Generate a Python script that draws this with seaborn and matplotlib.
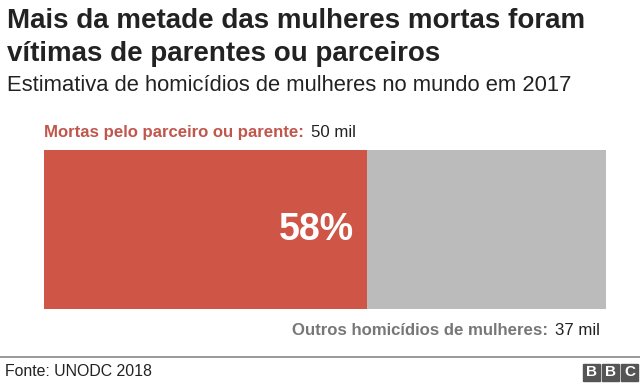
import matplotlib
matplotlib.use("Agg")
import matplotlib.pyplot as plt
import seaborn as sns
import pandas as pd

# data (mil mortes, 2017)
categories = ["Mortas pelo parceiro ou parente", "Outros homicídios de mulheres"]
values = [50, 37]
share_label = "58%"
colors = ["#CF5547", "#BBBBBB"]

title_lines = ["Mais da metade das mulheres mortas foram",
               "vítimas de parentes ou parceiros"]
subtitle = "Estimativa de homicídios de mulheres no mundo em 2017"
source = "Fonte: UNODC 2018"

sns.set_style("white")
plt.rcParams["font.family"] = ["Liberation Sans", "DejaVu Sans"]

fig = plt.figure(figsize=(6.4, 3.84), dpi=100)
W, H = 640, 384
ax = fig.add_axes([44 / W, 1 - 309 / H, (606 - 44) / W, (309 - 150) / H])

total = sum(values)
df = pd.DataFrame({"grupo": ["all", "all"], "valor": [total, values[0]],
                   "camada": ["total", "parente"]})
# background full bar (gray), then red part on top
sns.barplot(data=df[df.camada == "total"], x="valor", y="grupo", orient="h",
            color=colors[1], width=1, ax=ax, saturation=1, linewidth=0)
sns.barplot(data=df[df.camada == "parente"], x="valor", y="grupo", orient="h",
            color=colors[0], width=1, ax=ax, saturation=1, linewidth=0)
ax.set_xlim(0, total)
ax.set_ylim(0.5, -0.5)
ax.axis("off")

# percentage label inside red bar
ax.text(values[0] * 0.96, 0.0, share_label, color="white", fontsize=27,
        fontweight="bold", ha="right", va="center")

# titles
for line, base in zip(title_lines, [28, 61]):
    fig.text(7 / W, 1 - base / H, line, fontsize=20, fontweight="bold",
             color="#222222", ha="left", va="baseline")
fig.text(7 / W, 1 - 91 / H, subtitle, fontsize=15.8, color="#222222",
         ha="left", va="baseline")

# category labels
t1 = fig.text(44 / W, 1 - 137 / H, categories[0] + ":", fontsize=12.1,
              fontweight="bold", color="#C0574C", ha="left", va="baseline")
fig.canvas.draw()
bb = t1.get_window_extent()
fig.text(bb.x1 / W + 7 / W, 1 - 137 / H, f"{values[0]} mil", fontsize=12.1,
         color="#222222", ha="left", va="baseline")

t2 = fig.text(600 / W, 1 - 335 / H, f"{values[1]} mil", fontsize=12.1,
              color="#222222", ha="right", va="baseline")
fig.canvas.draw()
bb2 = t2.get_window_extent()
fig.text(bb2.x0 / W - 7 / W, 1 - 335 / H, categories[1] + ":", fontsize=12.1,
         fontweight="bold", color="#777777", ha="right", va="baseline")

# footer
fig.add_artist(plt.Line2D([0, 1], [1 - 357 / H, 1 - 357 / H],
                          transform=fig.transFigure, color="#888888", lw=1.2))
fig.text(5 / W, 1 - 372 / H, source, fontsize=11.4, color="#222222",
         ha="left", va="center")

# BBC logo blocks
for i, letter in enumerate("BBC"):
    x0 = 583 + i * 19
    fig.add_artist(plt.Rectangle((x0 / W, 1 - 381 / H), 17 / W, 17 / H,
                                 transform=fig.transFigure, color="#555555"))
    fig.text((x0 + 8.5) / W, 1 - 372.5 / H, letter, fontsize=11, fontweight="bold",
             color="white", ha="center", va="center")

fig.savefig("out.png", dpi=100)
